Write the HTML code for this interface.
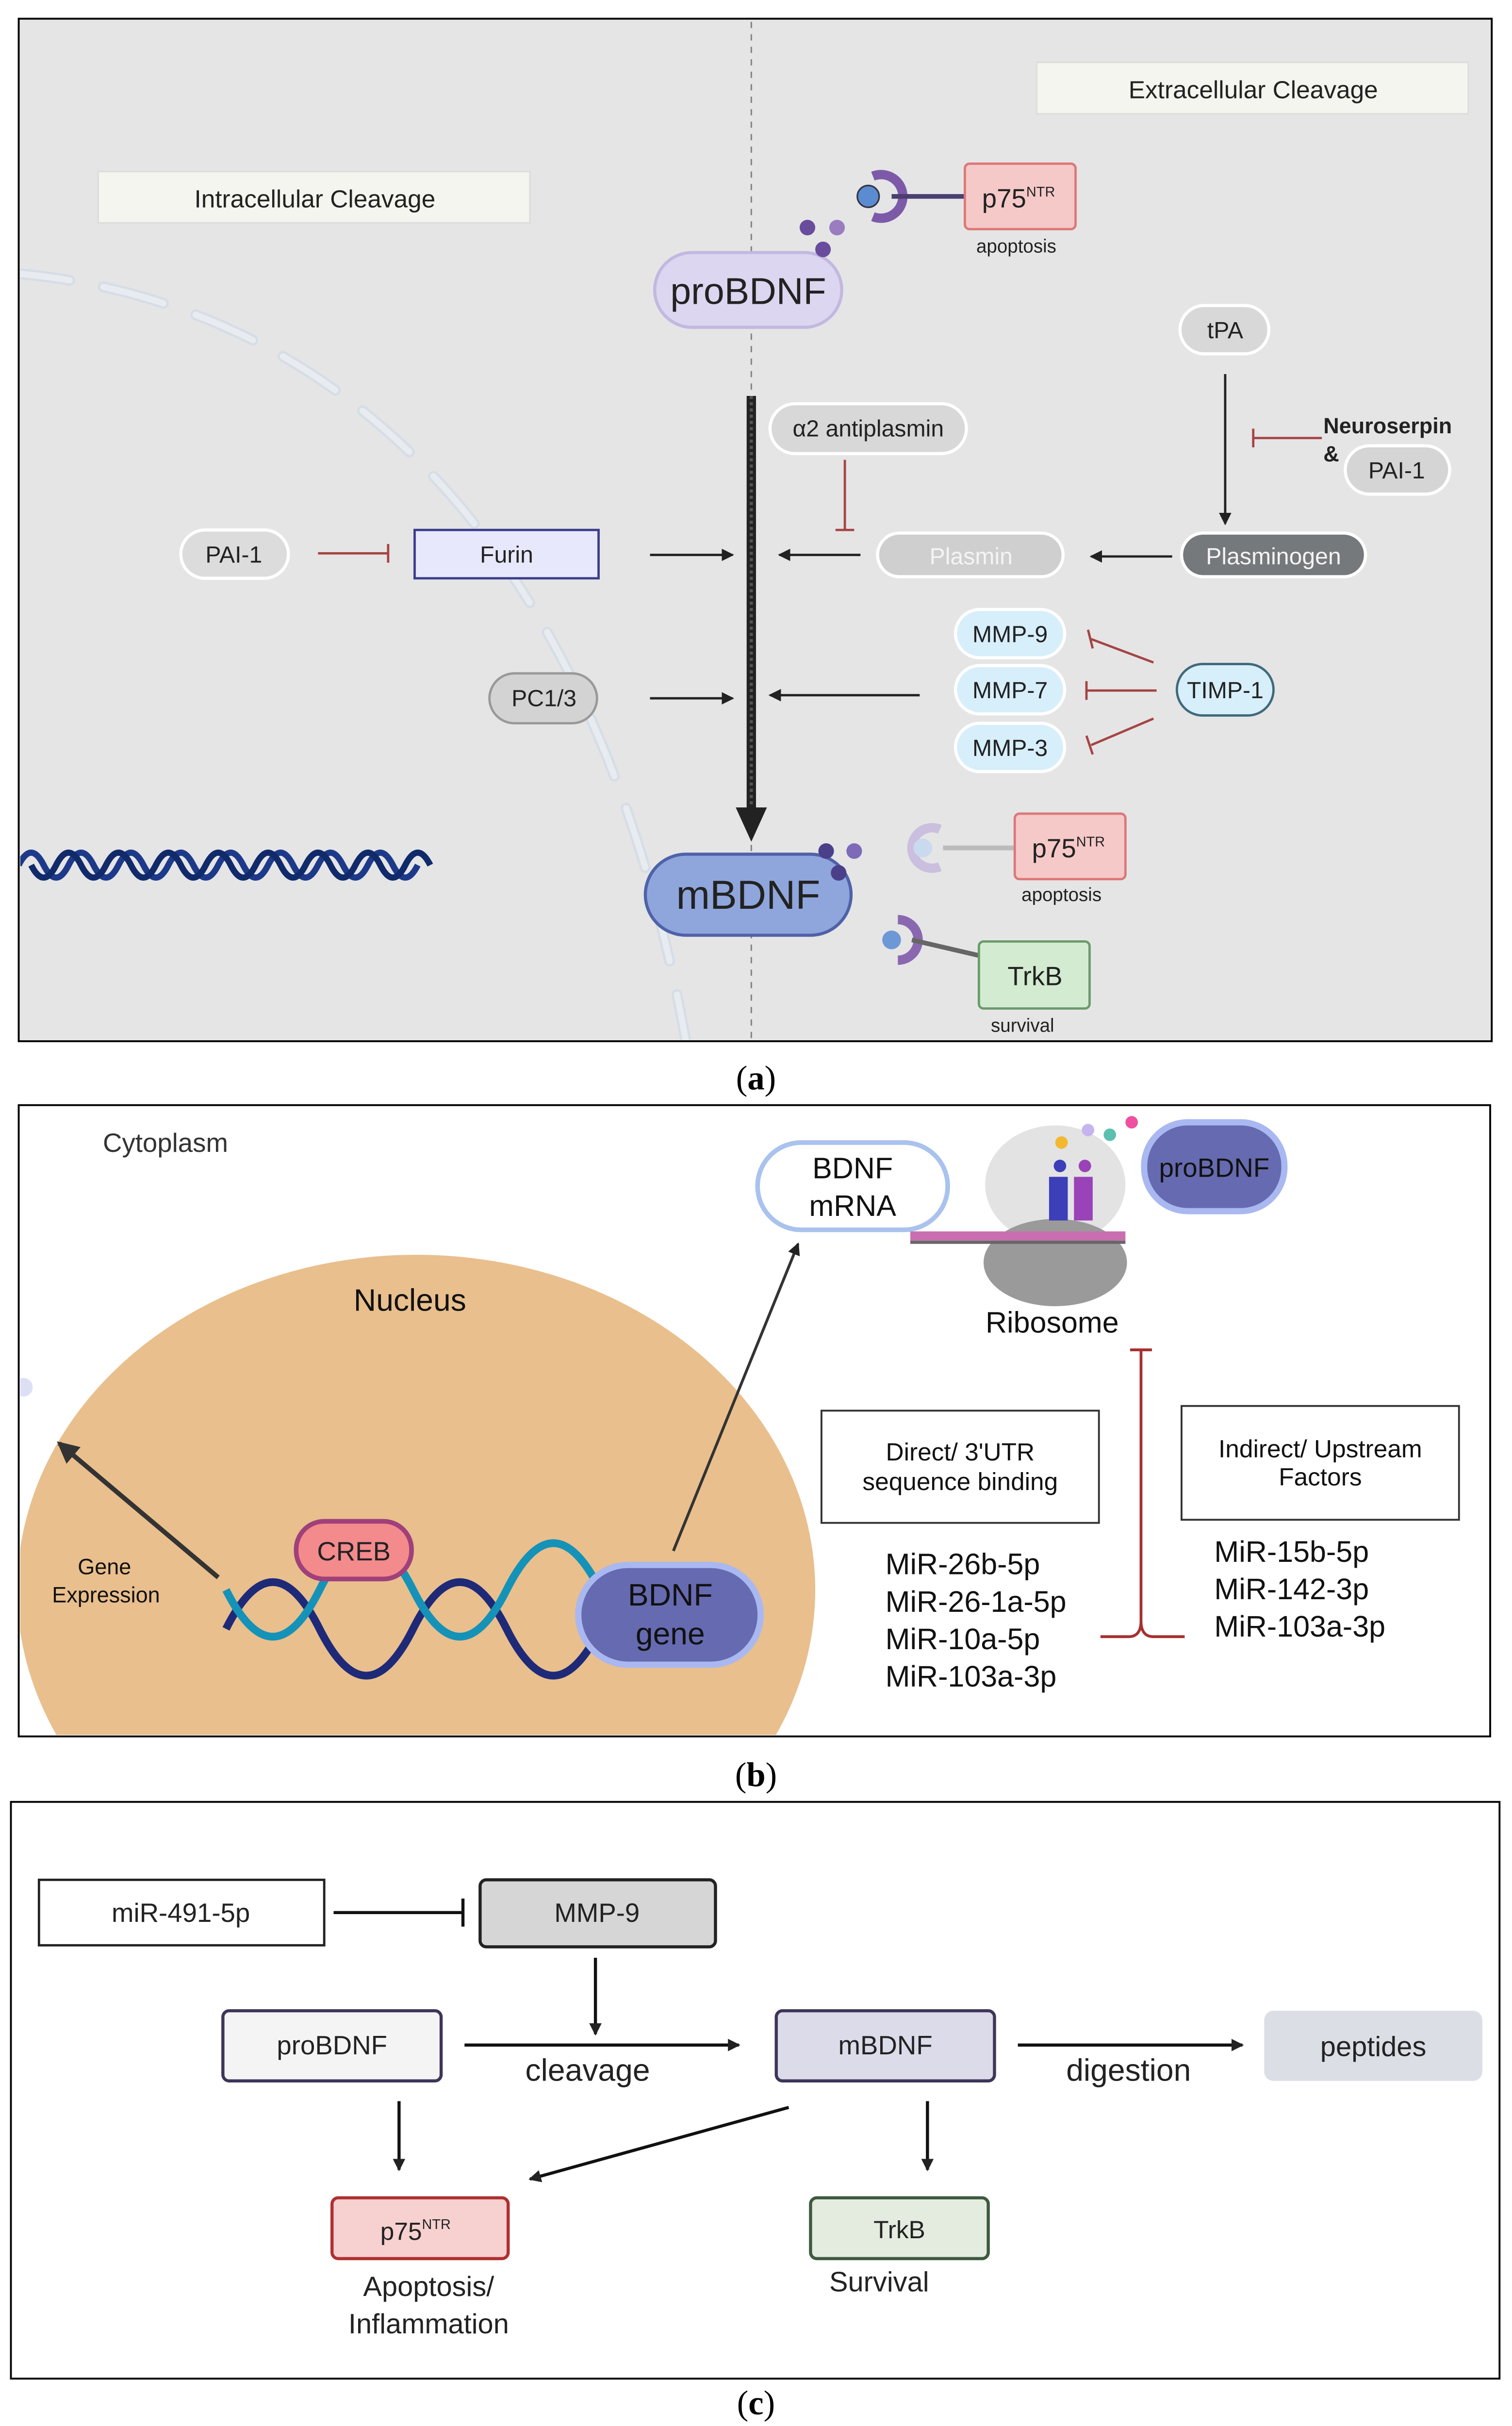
<!DOCTYPE html>
<html><head><meta charset="utf-8"><style>html,body{margin:0;padding:0;background:#fff;width:3116px;height:5018px;overflow:hidden}svg{display:block}</style></head><body>
<svg width="3116" height="5018" viewBox="0 0 970 1562" preserveAspectRatio="none" xmlns="http://www.w3.org/2000/svg" font-family="Liberation Sans, sans-serif">
<defs>
<marker id="ah" markerWidth="8" markerHeight="8" refX="7" refY="4" orient="auto" markerUnits="userSpaceOnUse"><path d="M0,0 L8,4 L0,8 z" fill="#222"/></marker>
<marker id="ahb" markerWidth="14" markerHeight="14" refX="12" refY="7" orient="auto" markerUnits="userSpaceOnUse"><path d="M0,0 L14,7 L0,14 z" fill="#333"/></marker>
<clipPath id="cb"><rect x="13" y="710" width="942" height="403"/></clipPath>
<clipPath id="ca"><rect x="13" y="13" width="943" height="654"/></clipPath>
</defs>
<rect x="12" y="12" width="945" height="656" fill="#e5e5e6" stroke="#000" stroke-width="1.2"/>
<g clip-path="url(#ca)">
<path d="M5,175 C200,190 380,330 440,668" fill="none" stroke="#d6dde6" stroke-width="7" stroke-dasharray="40,22" stroke-linecap="round"/>
<path d="M5,175 C200,190 380,330 440,668" fill="none" stroke="#e8ecf0" stroke-width="4" stroke-dasharray="40,22" stroke-linecap="round"/>
</g>
<line x1="482" y1="14" x2="482" y2="668" stroke="#888" stroke-width="1" stroke-dasharray="4,4"/>
<rect x="63" y="110" width="277" height="33" fill="#f3f5ee" stroke="#ddd"/>
<text x="202" y="133" font-size="16" text-anchor="middle" fill="#222">Intracellular Cleavage</text>
<rect x="665" y="40" width="277" height="33" fill="#f3f5ee" stroke="#ddd"/>
<text x="804" y="63" font-size="16" text-anchor="middle" fill="#222">Extracellular Cleavage</text>
<rect x="420" y="162" width="120" height="48" rx="24" fill="#dcd6f0" stroke="#c3b8e0" stroke-width="2"/>
<text x="480" y="195" font-size="24" text-anchor="middle" fill="#222">proBDNF</text>
<circle cx="518" cy="146" r="5" fill="#6a4c9c"/><circle cx="537" cy="146" r="5" fill="#9a7cc0"/><circle cx="528" cy="160" r="5" fill="#6a4c9c"/>
<path d="M560,113 A14,14 0 1 1 560,139" fill="none" stroke="#7d5aa8" stroke-width="6"/>
<circle cx="557" cy="126" r="7" fill="#5b8bd0" stroke="#334" stroke-width="1"/>
<line x1="572" y1="126" x2="619" y2="126" stroke="#4a3f70" stroke-width="3"/>
<rect x="619" y="105" width="71" height="42" rx="3" fill="#f6c9c9" stroke="#d77" stroke-width="1.5"/>
<text x="630" y="133" font-size="17" fill="#222">p75<tspan font-size="9" dy="-7">NTR</tspan></text>
<text x="652" y="162" font-size="12" text-anchor="middle" fill="#222">apoptosis</text>
<line x1="482" y1="254" x2="482" y2="522" stroke="#222" stroke-width="6"/>
<line x1="482" y1="254" x2="482" y2="522" stroke="#555" stroke-width="2" stroke-dasharray="2,2"/>
<path d="M472,518 L492,518 L482,540 z" fill="#222"/>
<rect x="414" y="548" width="132" height="52" rx="26" fill="#8fa6dc" stroke="#4f62a8" stroke-width="2"/>
<text x="480" y="583" font-size="26" text-anchor="middle" fill="#222">mBDNF</text>
<circle cx="530" cy="546" r="5" fill="#4b3f8a"/><circle cx="548" cy="546" r="5" fill="#7d6ab8"/><circle cx="538" cy="560" r="5" fill="#4b3f8a"/>
<path d="M603,532 A13,13 0 1 0 603,556" fill="none" stroke="#cbbfdf" stroke-width="6"/>
<circle cx="592" cy="544" r="6" fill="#c9d9ee"/>
<line x1="605" y1="544" x2="651" y2="544" stroke="#bbb" stroke-width="3"/>
<rect x="651" y="522" width="71" height="42" rx="3" fill="#f6c9c9" stroke="#d77" stroke-width="1.5"/>
<text x="662" y="550" font-size="17" fill="#222">p75<tspan font-size="9" dy="-7">NTR</tspan></text>
<text x="681" y="578" font-size="12" text-anchor="middle" fill="#222">apoptosis</text>
<path d="M576,590 A13,13 0 1 1 576,616" fill="none" stroke="#8a68b0" stroke-width="6"/>
<circle cx="572" cy="603" r="6" fill="#6d98d6"/>
<line x1="585" y1="603" x2="628" y2="613" stroke="#666" stroke-width="3"/>
<rect x="628" y="604" width="71" height="43" rx="3" fill="#d3ecd1" stroke="#6a9a6a" stroke-width="1.5"/>
<text x="664" y="632" font-size="17" text-anchor="middle" fill="#222">TrkB</text>
<text x="656" y="662" font-size="12" text-anchor="middle" fill="#222">survival</text>
<g font-size="15" text-anchor="middle" fill="#222">
<rect x="116" y="340" width="69" height="31" rx="15.5" fill="#dcdcdc" stroke="#fff" stroke-width="2"/><text x="150" y="361">PAI-1</text>
<rect x="266" y="340" width="118" height="31" fill="#e8e8fc" stroke="#3c3c8c" stroke-width="1.5"/><text x="325" y="361">Furin</text>
<rect x="314" y="432" width="69" height="32" rx="16" fill="#d3d3d3" stroke="#999" stroke-width="1.5"/><text x="349" y="453">PC1/3</text>
<rect x="494" y="259" width="126" height="32" rx="16" fill="#d8d8d8" stroke="#fff" stroke-width="2"/><text x="557" y="280">α2 antiplasmin</text>
<rect x="563" y="342" width="119" height="28" rx="14" fill="#cfcfcf" stroke="#fff" stroke-width="2"/><text x="623" y="362" fill="#f4f4f4">Plasmin</text>
<rect x="758" y="342" width="118" height="28" rx="14" fill="#76797c" stroke="#fff" stroke-width="2"/><text x="817" y="362" fill="#f4f4f4">Plasminogen</text>
<rect x="757" y="196" width="57" height="31" rx="15.5" fill="#d8d8d8" stroke="#fff" stroke-width="2"/><text x="786" y="217">tPA</text>
<rect x="863" y="286" width="67" height="31" rx="15.5" fill="#d5d5d5" stroke="#fff" stroke-width="2"/><text x="896" y="307">PAI-1</text>
<rect x="613" y="391" width="70" height="31" rx="15.5" fill="#d7eefb" stroke="#fff" stroke-width="2"/><text x="648" y="412">MMP-9</text>
<rect x="613" y="427" width="70" height="31" rx="15.5" fill="#d7eefb" stroke="#fff" stroke-width="2"/><text x="648" y="448">MMP-7</text>
<rect x="613" y="464" width="70" height="31" rx="15.5" fill="#d7eefb" stroke="#fff" stroke-width="2"/><text x="648" y="485">MMP-3</text>
<rect x="755" y="426" width="62" height="33" rx="16.5" fill="#d7eefb" stroke="#3f6a7a" stroke-width="1.5"/><text x="786" y="448">TIMP-1</text>
</g>
<text x="849" y="278" font-size="14" font-weight="bold" fill="#222">Neuroserpin</text>
<text x="849" y="296" font-size="14" font-weight="bold" fill="#222">&amp;</text>
<g stroke="#222" stroke-width="1.5" fill="none" marker-end="url(#ah)">
<line x1="417" y1="356" x2="470" y2="356"/>
<line x1="552" y1="356" x2="500" y2="356"/>
<line x1="417" y1="448" x2="470" y2="448"/>
<line x1="590" y1="446" x2="494" y2="446"/>
<line x1="752" y1="357" x2="700" y2="357"/>
<line x1="786" y1="240" x2="786" y2="336"/>
</g>
<g stroke="#a64444" stroke-width="1.5" fill="none">
<line x1="204" y1="355" x2="249" y2="355"/><line x1="249" y1="349" x2="249" y2="361"/>
<line x1="542" y1="295" x2="542" y2="340"/><line x1="536" y1="340" x2="548" y2="340"/>
<line x1="848" y1="281" x2="804" y2="281"/><line x1="804" y1="275" x2="804" y2="287"/>
<line x1="740" y1="425" x2="700" y2="410"/><line x1="698" y1="404" x2="701" y2="416"/>
<line x1="742" y1="443" x2="697" y2="443"/><line x1="697" y1="437" x2="697" y2="449"/>
<line x1="740" y1="461" x2="700" y2="478"/><line x1="697" y1="472" x2="701" y2="484"/>
</g>
<g fill="none" stroke-width="4" clip-path="url(#ca)">
<path d="M12,555 q8,-16 16,0 t16,0 t16,0 t16,0 t16,0 t16,0 t16,0 t16,0 t16,0 t16,0 t16,0 t16,0 t16,0 t16,0 t16,0 t16,0" stroke="#1d3a8a"/>
<path d="M20,555 q8,16 16,0 t16,0 t16,0 t16,0 t16,0 t16,0 t16,0 t16,0 t16,0 t16,0 t16,0 t16,0 t16,0 t16,0 t16,0 t16,0" stroke="#102a6a"/>
</g>
<text x="485" y="699" font-size="22" text-anchor="middle" font-family="Liberation Serif, serif">(<tspan font-weight="bold">a</tspan>)</text>
<rect x="12" y="709" width="944" height="405" fill="#fff" stroke="#000" stroke-width="1.2"/>
<g clip-path="url(#cb)">
<ellipse cx="267" cy="1020" rx="256" ry="215" fill="#e9bf8d"/>
<circle cx="15" cy="890" r="6" fill="#dde0f5"/>
</g>
<text x="66" y="739" font-size="17" fill="#333">Cytoplasm</text>
<text x="263" y="841" font-size="20" text-anchor="middle" fill="#111">Nucleus</text>
<text x="67" y="1010" font-size="14" text-anchor="middle" fill="#111">Gene</text>
<text x="68" y="1028" font-size="14" text-anchor="middle" fill="#111">Expression</text>
<line x1="140" y1="1012" x2="38" y2="926" stroke="#333" stroke-width="3" marker-end="url(#ahb)"/>
<line x1="432" y1="995" x2="512" y2="798" stroke="#333" stroke-width="1.8" marker-end="url(#ah)"/>
<g fill="none" stroke-width="5">
<path d="M145,1045 C165,1005 185,1005 205,1045 S245,1085 265,1045 S305,1005 325,1045 S365,1085 385,1045" stroke="#1e2a78"/>
<path d="M145,1020 C165,1060 185,1060 205,1020 S245,980 265,1020 S305,1060 325,1020 S365,980 385,1020" stroke="#1592b8"/>
</g>
<rect x="190" y="976" width="74" height="37" rx="18" fill="#f38a8c" stroke="#a0407a" stroke-width="3"/>
<text x="227" y="1001" font-size="17" text-anchor="middle" fill="#222">CREB</text>
<rect x="371" y="1004" width="117" height="64" rx="32" fill="#666ab0" stroke="#a9b8f0" stroke-width="4"/>
<text x="430" y="1030" font-size="20" text-anchor="middle" fill="#111">BDNF</text>
<text x="430" y="1055" font-size="20" text-anchor="middle" fill="#111">gene</text>
<rect x="486" y="733" width="122" height="56" rx="28" fill="#fff" stroke="#a9c2ee" stroke-width="3"/>
<text x="547" y="756" font-size="19" text-anchor="middle" fill="#111">BDNF</text>
<text x="547" y="780" font-size="19" text-anchor="middle" fill="#111">mRNA</text>
<ellipse cx="677" cy="760" rx="45" ry="38" fill="#e3e3e3"/>
<ellipse cx="677" cy="810" rx="46" ry="28" fill="#9a9a9a"/>
<rect x="673" y="755" width="12" height="28" fill="#3c3fb8"/><rect x="689" y="755" width="12" height="28" fill="#9a42b8"/>
<circle cx="680" cy="748" r="4" fill="#3c3fb8"/><circle cx="696" cy="748" r="4" fill="#9a42b8"/>
<circle cx="681" cy="733" r="4" fill="#f2b830"/><circle cx="698" cy="725" r="4" fill="#c5b5ee"/><circle cx="712" cy="728" r="4" fill="#5bc0b0"/><circle cx="726" cy="720" r="4" fill="#ee4fa0"/>
<rect x="584" y="790" width="138" height="6" fill="#c96fb0"/><rect x="584" y="796" width="138" height="2" fill="#666"/>
<rect x="734" y="720" width="90" height="57" rx="28" fill="#666ab0" stroke="#a9b8f0" stroke-width="4"/>
<text x="779" y="755" font-size="17" text-anchor="middle" fill="#111">proBDNF</text>
<text x="675" y="855" font-size="19" text-anchor="middle" fill="#111">Ribosome</text>
<rect x="527" y="905" width="178" height="72" fill="#fff" stroke="#333" stroke-width="1.2"/>
<text x="616" y="937" font-size="16" text-anchor="middle" fill="#111">Direct/ 3'UTR</text>
<text x="616" y="956" font-size="16" text-anchor="middle" fill="#111">sequence binding</text>
<rect x="758" y="902" width="178" height="73" fill="#fff" stroke="#333" stroke-width="1.2"/>
<text x="847" y="935" font-size="16" text-anchor="middle" fill="#111">Indirect/ Upstream</text>
<text x="847" y="953" font-size="16" text-anchor="middle" fill="#111">Factors</text>
<g font-size="19" fill="#111">
<text x="568" y="1010">MiR-26b-5p</text><text x="568" y="1034">MiR-26-1a-5p</text><text x="568" y="1058">MiR-10a-5p</text><text x="568" y="1082">MiR-103a-3p</text>
<text x="779" y="1002">MiR-15b-5p</text><text x="779" y="1026">MiR-142-3p</text><text x="779" y="1050">MiR-103a-3p</text>
</g>
<g stroke="#a63030" stroke-width="1.8" fill="none">
<line x1="732" y1="866" x2="732" y2="1040"/><line x1="725" y1="866" x2="739" y2="866"/>
<path d="M706,1050 L724,1050 Q732,1050 732,1040 Q732,1050 740,1050 L760,1050"/>
</g>
<text x="485" y="1146" font-size="22" text-anchor="middle" font-family="Liberation Serif, serif">(<tspan font-weight="bold">b</tspan>)</text>
<rect x="7" y="1156" width="955" height="370" fill="#fff" stroke="#000" stroke-width="1.2"/>
<rect x="25" y="1206" width="183" height="42" fill="#fff" stroke="#222" stroke-width="1.5"/>
<text x="116" y="1233" font-size="17" text-anchor="middle" fill="#222">miR-491-5p</text>
<rect x="308" y="1206" width="151" height="43" rx="4" fill="#d6d6d6" stroke="#222" stroke-width="2"/>
<text x="383" y="1233" font-size="17" text-anchor="middle" fill="#222">MMP-9</text>
<rect x="143" y="1290" width="140" height="45" rx="4" fill="#f4f4f4" stroke="#3e3558" stroke-width="2"/>
<text x="213" y="1318" font-size="17" text-anchor="middle" fill="#222">proBDNF</text>
<rect x="498" y="1290" width="140" height="45" rx="4" fill="#dcdbea" stroke="#3e3558" stroke-width="2"/>
<text x="568" y="1318" font-size="17" text-anchor="middle" fill="#222">mBDNF</text>
<rect x="811" y="1290" width="140" height="45" rx="6" fill="#dcdee6"/>
<text x="881" y="1319" font-size="18" text-anchor="middle" fill="#222">peptides</text>
<rect x="213" y="1410" width="113" height="39" rx="4" fill="#f7d0d0" stroke="#b03030" stroke-width="2"/>
<text x="244" y="1437" font-size="16" fill="#222">p75<tspan font-size="9" dy="-7">NTR</tspan></text>
<rect x="520" y="1410" width="114" height="39" rx="4" fill="#e3ecdf" stroke="#3e5a3e" stroke-width="2"/>
<text x="577" y="1436" font-size="16" text-anchor="middle" fill="#222">TrkB</text>
<text x="275" y="1473" font-size="18" text-anchor="middle" fill="#222">Apoptosis/</text>
<text x="275" y="1497" font-size="18" text-anchor="middle" fill="#222">Inflammation</text>
<text x="564" y="1470" font-size="18" text-anchor="middle" fill="#222">Survival</text>
<text x="377" y="1335" font-size="20" text-anchor="middle" fill="#222">cleavage</text>
<text x="724" y="1335" font-size="20" text-anchor="middle" fill="#222">digestion</text>
<g stroke="#111" stroke-width="2" fill="none" marker-end="url(#ah)">
<line x1="382" y1="1256" x2="382" y2="1305"/>
<line x1="298" y1="1312" x2="474" y2="1312"/>
<line x1="653" y1="1312" x2="797" y2="1312"/>
<line x1="256" y1="1348" x2="256" y2="1392"/>
<line x1="595" y1="1348" x2="595" y2="1392"/>
<line x1="506" y1="1352" x2="340" y2="1398"/>
</g>
<line x1="214" y1="1227" x2="297" y2="1227" stroke="#111" stroke-width="2"/><line x1="297" y1="1218" x2="297" y2="1236" stroke="#111" stroke-width="2"/>
<text x="485" y="1549" font-size="22" text-anchor="middle" font-family="Liberation Serif, serif">(<tspan font-weight="bold">c</tspan>)</text>
</svg>
</body></html>
